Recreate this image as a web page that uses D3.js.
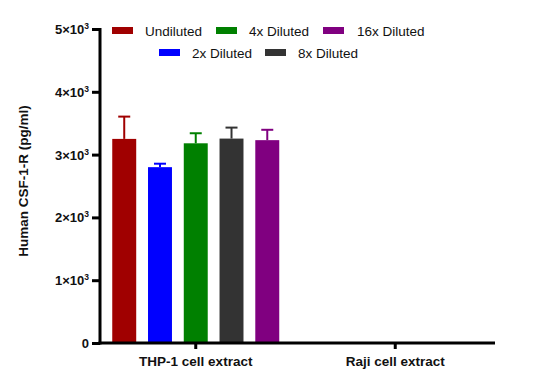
<!DOCTYPE html>
<html lang="en">
<head>
<meta charset="UTF-8">
<title>Human CSF-1-R</title>
<script src="https://d3js.org/d3.v7.min.js"></script>
<style>
body{margin:0;background:#fff}
svg{display:block;font-family:"Liberation Sans",Arial,sans-serif}
.tick-label{font-size:13px;font-weight:bold;fill:#111}
.group-label{font-size:13.5px;font-weight:bold;fill:#111}
.axis-title{font-size:13.5px;font-weight:bold;fill:#111}
.legend-text{font-size:13.5px;fill:#111}
</style>
</head>
<body>
<svg id="chart" width="540" height="389"></svg>
<script>
// ── Data ──
var groups = ['THP-1 cell extract', 'Raji cell extract'];
var series = ['Undiluted', '2x Diluted', '4x Diluted', '8x Diluted', '16x Diluted'];
var colors = ['#a00000', '#0000ff', '#008000', '#333333', '#800080'];
var thpMeans = [3250, 2800, 3180, 3255, 3230];
var thpErrors = [355, 55, 160, 175, 165];
var yTicks = [0, 1000, 2000, 3000, 4000, 5000];

var svg = d3.select('#chart');
var x0 = 100, x1 = 495, yBottom = 343, yTop = 29;

var x = d3.scaleBand().domain(groups).range([x0, x1]);
var y = d3.scaleLinear().domain([0, 5000]).range([yBottom, yTop]);
// inner band: step ~35.7px, bar width 24px, centred in group
var inner = d3.scaleBand().domain(series).range([-83.5, 83.5]).paddingInner(0.33).paddingOuter(0);

var g = svg.append('g');

// bars
var gx = x(groups[0]) + x.bandwidth() / 2 - 3;
series.forEach(function(s, i) {
  var bx = gx + inner(s);
  var bw = inner.bandwidth();
  var top = y(thpMeans[i]);
  var errTop = y(thpMeans[i] + thpErrors[i]);
  var cx = bx + bw / 2;
  g.append('line').attr('x1', cx).attr('x2', cx).attr('y1', top).attr('y2', errTop)
    .attr('stroke', colors[i]).attr('stroke-width', 2);
  g.append('line').attr('x1', cx - 6).attr('x2', cx + 6).attr('y1', errTop).attr('y2', errTop)
    .attr('stroke', colors[i]).attr('stroke-width', 2);
  g.append('rect').attr('x', bx).attr('y', top).attr('width', bw).attr('height', yBottom - top)
    .attr('fill', colors[i]);
});

// y axis
var yAxis = d3.axisLeft(y).tickValues(yTicks).tickSize(8).tickFormat('');
var ya = svg.append('g').attr('transform', 'translate(' + x0 + ',0)').call(yAxis);
ya.select('.domain').attr('stroke', '#000').attr('stroke-width', 3).attr('d', 'M0,' + (yTop - 1) + 'V' + (yBottom + 1.5));
ya.selectAll('.tick line').attr('stroke', '#000').attr('stroke-width', 3);
yTicks.forEach(function(t) {
  var txt = svg.append('text').attr('class', 'tick-label').attr('text-anchor', 'end')
    .attr('x', x0 - 11).attr('y', y(t) + 5);
  if (t === 0) { txt.text('0'); return; }
  txt.append('tspan').text((t / 1000) + '×10');
  txt.append('tspan').attr('dy', -5).attr('font-size', 8.5).text('3');
});

// x axis
var xAxis = d3.axisBottom(x).tickSize(6).tickFormat('');
var xa = svg.append('g').attr('transform', 'translate(0,' + yBottom + ')').call(xAxis);
xa.select('.domain').attr('stroke', '#000').attr('stroke-width', 3).attr('d', 'M' + (x0 - 1.5) + ',0H' + x1);
xa.selectAll('.tick line').attr('stroke', '#000').attr('stroke-width', 3)
  .attr('transform', function(d, i) { return i === 0 ? 'translate(-3,0)' : 'translate(-1,0)'; });
groups.forEach(function(gname, i) {
  svg.append('text').attr('class', 'group-label').attr('text-anchor', 'middle')
    .attr('x', x(gname) + x.bandwidth() / 2 - (i === 0 ? 3 : 1)).attr('y', 366).text(gname);
});

// axis title
svg.append('text').attr('class', 'axis-title').attr('text-anchor', 'middle')
  .attr('transform', 'translate(28,181) rotate(-90)').text('Human CSF-1-R (pg/ml)');

// legend
var legendPos = [
  {sx: 112, tx: 145, y: 31},
  {sx: 159, tx: 192, y: 53},
  {sx: 216, tx: 249, y: 31},
  {sx: 265, tx: 298, y: 53},
  {sx: 323, tx: 357, y: 31}
];
series.forEach(function(s, i) {
  var p = legendPos[i];
  svg.append('rect').attr('x', p.sx).attr('y', p.y - 4).attr('width', 21).attr('height', 7).attr('fill', colors[i]);
  svg.append('text').attr('class', 'legend-text').attr('x', p.tx).attr('y', p.y + 5).text(s);
});
</script>
</body>
</html>
